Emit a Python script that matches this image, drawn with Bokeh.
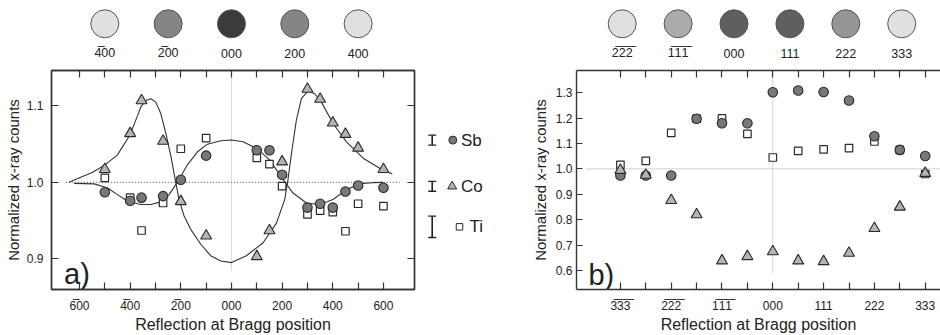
from bokeh.plotting import figure
from bokeh.models import Range1d, LinearAxis, FixedTicker, NumeralTickFormatter
from bokeh.layouts import row, column
from bokeh.embed import file_html
from bokeh.resources import INLINE
from bokeh.core.properties import value

OL = "\u0305"
FONT = "Liberation Sans"

# ---------------- panel a) data ----------------
pos_a = [-500, -400, -355, -270, -200, -100, 100, 150, 200, 300, 350, 400, 450, 500, 600]
sb_a = [0.987, 0.976, 0.980, 0.982, 1.0035, 1.035, 1.042, 1.042, 1.010, 0.967, 0.972, 0.967, 0.988, 0.996, 0.993]
co_a = [1.017, 1.064, 1.107, 1.054, 0.975, 0.930, 0.903, 0.937, 1.027, 1.122, 1.109, 1.078, 1.063, 1.045, 1.017]
ti_a = [1.006, 0.980, 0.937, 0.973, 1.044, 1.058, 1.032, 1.024, 0.995, 0.958, 0.963, 0.961, 0.936, 0.972, 0.969]

# fitted curves
co_fit_x = [-641, -600, -550, -503, -450, -401, -370, -358, -338, -318, -299, -279, -259, -239, -222, -207,
            -187, -161, -121, -82, -42, 0, 59, 125, 178, 210, 223, 237, 256, 276, 302, 329, 355, 401, 454,
            520, 585, 635]
co_fit_y = [1.0, 1.006, 1.013, 1.022, 1.036, 1.062, 1.088, 1.0987, 1.107, 1.1095, 1.105, 1.090, 1.064, 1.034,
            1.0035, 0.9775, 0.956, 0.9385, 0.919, 0.904, 0.897, 0.895, 0.904, 0.921, 0.947, 0.9775, 1.0035,
            1.038, 1.081, 1.1095, 1.1195, 1.116, 1.105, 1.077, 1.053, 1.0316, 1.0186, 1.011]
sb_fit_x = [-621, -542, -489, -450, -411, -358, -318, -279, -246, -207, -174, -134, -95, -42, 0, 46, 99, 151,
            204, 243, 296, 349, 401, 454, 506, 559, 599]
sb_fit_y = [0.9987, 0.998, 0.9926, 0.984, 0.9753, 0.971, 0.971, 0.9745, 0.984, 1.0035, 1.023, 1.040, 1.050,
            1.0545, 1.0554, 1.0532, 1.0446, 1.0294, 1.0035, 0.986, 0.973, 0.971, 0.9775, 0.9905, 0.9983,
            0.9996, 1.0]

tick_labels_a = {-600: "6" + OL + "00", -400: "4" + OL + "00", -200: "2" + OL + "00", 0: "000",
                 200: "200", 400: "400", 600: "600"}
ring_a_pos = [-500, -250, 0, 250, 500]
ring_a_lbl = ["4" + OL + "00", "2" + OL + "00", "000", "200", "400"]
ring_a_col = ["#e0e0e0", "#858585", "#3b3b3b", "#858585", "#e0e0e0"]

# ---------------- panel b) data ----------------
pos_b = [-3, -2.5, -2, -1.5, -1, -0.5, 0, 0.5, 1, 1.5, 2, 2.5, 3]
sb_b = [0.974, 0.974, 0.974, 1.198, 1.180, 1.180, 1.302, 1.309, 1.303, 1.270, 1.129, 1.075, 1.051]
ti_b = [1.016, 1.032, 1.142, 1.198, 1.199, 1.138, 1.045, 1.071, 1.077, 1.082, 1.108, 1.075, 0.980]
co_b = [0.995, 0.976, 0.876, 0.820, 0.638, 0.655, 0.674, 0.638, 0.635, 0.668, 0.766, 0.850, 0.983]

b3 = "3" + OL
b2 = "2" + OL
b1 = "1" + OL
tick_labels_b = {-3: b3 * 3, -2: b2 * 3, -1: b1 * 3, 0: "000", 1: "111", 2: "222", 3: "333"}
ring_b_lbl = [b2 * 3, b1 * 3, "000", "111", "222", "333"]
ring_b_col = ["#e0e0e0", "#ababab", "#5f5f5f", "#5f5f5f", "#969696", "#e0e0e0"]

# legend
leg_names = ["Sb", "Co", "Ti"]
leg_err = [0.0065, 0.0065, 0.014]

C_FILL = "#787878"
T_FILL = "#b4b4b4"
EDGE = "#2a2a2a"
AX = "#333333"


def make_fig(w, h, xr, yr, **kw):
    p = figure(width=w, height=h, x_range=xr, y_range=yr, x_axis_type=None, y_axis_type=None,
               output_backend="svg", toolbar_location=None, **kw)
    p.grid.visible = False
    p.outline_line_color = None
    p.background_fill_color = "white"
    p.border_fill_color = "white"
    return p


def axis(ticks, minor, tick_len=7, labels=True, size="12px", standoff=8, fmt=None, overrides=None,
         label=None, label_size="16px", label_standoff=2):
    ax = LinearAxis(ticker=FixedTicker(ticks=ticks, minor_ticks=minor))
    ax.axis_line_color = AX
    ax.axis_line_width = 1.4
    ax.major_tick_line_color = AX
    ax.minor_tick_line_color = AX
    ax.major_tick_line_width = 1.2
    ax.minor_tick_line_width = 1.2
    ax.major_tick_in = tick_len
    ax.major_tick_out = 0
    ax.minor_tick_in = tick_len
    ax.minor_tick_out = 0
    if fmt is not None:
        ax.formatter = fmt
    if overrides is not None:
        ax.major_label_overrides = overrides
    if labels:
        ax.major_label_text_font = FONT
        ax.major_label_text_font_size = size
        ax.major_label_text_color = "#222222"
        ax.major_label_standoff = standoff
    else:
        ax.major_label_text_font_size = "1px"
        ax.major_label_text_color = None
        ax.major_label_standoff = 0
    if label:
        ax.axis_label = label
        ax.axis_label_text_font = FONT
        ax.axis_label_text_font_size = label_size
        ax.axis_label_text_font_style = "normal"
        ax.axis_label_text_color = "#222222"
        ax.axis_label_standoff = label_standoff
    return ax


# ---------------- top rows of rings ----------------
xr_a = Range1d(-710.5, 722.6)
ta = make_fig(420, 62, xr_a, Range1d(62, 0), min_border_left=51, min_border_right=6,
              min_border_top=0, min_border_bottom=0)
ta.scatter(ring_a_pos, [23.3] * 5, size=28, marker="circle", fill_color=ring_a_col,
           line_color="#555555", line_width=1)
ta.text(ring_a_pos, [52.5] * 5, text=ring_a_lbl, text_font=value(FONT), text_font_size="12.5px",
        text_align="center", text_baseline="middle", text_color="#222222")

ring_b_pos = list(range(6))
tb = make_fig(520, 62, Range1d(-3.608, 5.694), Range1d(62, 0), min_border_left=0, min_border_right=0,
              min_border_top=0, min_border_bottom=0)
tb.scatter(ring_b_pos, [23.3] * 6, size=28, marker="circle", fill_color=ring_b_col,
           line_color="#555555", line_width=1)
tb.text(ring_b_pos, [52.5] * 6, text=ring_b_lbl, text_font=value(FONT), text_font_size="12.5px",
        text_align="center", text_baseline="middle", text_color="#222222")

# ---------------- panel a ----------------
yr_a = Range1d(0.8598, 1.1464)
pa = make_fig(420, 273, xr_a, yr_a, min_border_left=51, min_border_right=6,
              min_border_top=8, min_border_bottom=44)
pa.outline_line_color = AX
pa.outline_line_width = 1.4

maj_a = [-600, -400, -200, 0, 200, 400, 600]
min_a = [-500, -300, -100, 100, 300, 500]
pa.add_layout(axis(maj_a, min_a, overrides=tick_labels_a, label="Reflection at Bragg position",
                   label_standoff=0, standoff=9), "below")
pa.add_layout(axis(maj_a, min_a, labels=False), "above")
pa.add_layout(axis([0.9, 1.0, 1.1], [], fmt=NumeralTickFormatter(format="0.0"),
                   label="Normalized x-ray counts", label_size="15px", label_standoff=2, standoff=8), "left")
pa.add_layout(axis([0.9, 1.0, 1.1], [], labels=False), "right")

pa.segment(x0=[0], y0=[0.884], x1=[0], y1=[1.1464], line_color="#dddddd", line_width=1.2)
pa.segment(x0=[-654], y0=[1.0], x1=[664], y1=[1.0], line_color="#666666", line_width=1.1, line_dash="1 2")
pa.line(co_fit_x, co_fit_y, line_color="#333333", line_width=1.1)
pa.line(sb_fit_x, sb_fit_y, line_color="#333333", line_width=1.1)
pa.scatter(pos_a, ti_a, marker="square", size=7.5, fill_color="white", line_color=EDGE, line_width=1.2)
pa.scatter(pos_a, sb_a, marker="circle", size=9.5, fill_color=C_FILL, line_color=EDGE, line_width=1.1)
pa.scatter(pos_a, co_a, marker="triangle", size=11, fill_color=T_FILL, line_color=EDGE, line_width=1.1)
pa.text([-661], [0.880], text=["a)"], text_font=value(FONT), text_font_size="29px",
        text_baseline="alphabetic", text_align="left", text_color="#222222")

# ---------------- legend strip ----------------
leg = make_fig(85, 273, Range1d(420, 505), yr_a, min_border_left=0, min_border_right=0,
               min_border_top=8, min_border_bottom=44)
leg_y = [1.0553, 0.9948, 0.9418]
bar_x = 431.7
leg.segment(x0=[bar_x] * 3, y0=[y - e for y, e in zip(leg_y, leg_err)],
            x1=[bar_x] * 3, y1=[y + e for y, e in zip(leg_y, leg_err)], line_color="#222222", line_width=1.6)
for sgn in (-1, 1):
    leg.segment(x0=[bar_x - 4] * 3, y0=[y + sgn * e for y, e in zip(leg_y, leg_err)],
                x1=[bar_x + 4] * 3, y1=[y + sgn * e for y, e in zip(leg_y, leg_err)],
                line_color="#222222", line_width=1.4)
leg.scatter([452.3], [leg_y[0]], marker="circle", size=8, fill_color=C_FILL, line_color=EDGE, line_width=1)
leg.scatter([451.7], [leg_y[1]], marker="triangle", size=9, fill_color=T_FILL, line_color=EDGE, line_width=1)
leg.scatter([459], [leg_y[2]], marker="square", size=6.5, fill_color="white", line_color=EDGE, line_width=1)
leg.text([460.5, 460.5, 469], leg_y, text=leg_names, text_font=value(FONT), text_font_size="17px",
         text_baseline="middle", text_align="left", text_color="#222222")

# ---------------- panel b ----------------
pb = make_fig(435, 273, Range1d(-3.864, 3.301), Range1d(0.5246, 1.388), min_border_left=71,
              min_border_right=0, min_border_top=7, min_border_bottom=45)
maj_b = [-3, -2, -1, 0, 1, 2, 3]
min_b = [-2.5, -1.5, -0.5, 0.5, 1.5, 2.5]
pb.add_layout(axis(maj_b, min_b, overrides=tick_labels_b, label="Reflection at Bragg position",
                   label_standoff=0, standoff=9), "below")
pb.add_layout(axis(maj_b, min_b, labels=False), "above")
pb.add_layout(axis([0.6, 0.7, 0.8, 0.9, 1.0, 1.1, 1.2, 1.3], [], tick_len=6,
                   fmt=NumeralTickFormatter(format="0.0"), label="Normalized x-ray counts",
                   label_size="15px", label_standoff=4, standoff=4), "left")

pb.segment(x0=[-3.68], y0=[1.0], x1=[3.301], y1=[1.0], line_color="#d9d9d9", line_width=1.1)
pb.segment(x0=[0], y0=[0.59], x1=[0], y1=[1.388], line_color="#d9d9d9", line_width=1.1)
pb.scatter(pos_b, ti_b, marker="square", size=7.5, fill_color="white", line_color=EDGE, line_width=1.2)
pb.scatter(pos_b, sb_b, marker="circle", size=9.5, fill_color=C_FILL, line_color=EDGE, line_width=1.1)
pb.scatter(pos_b, co_b, marker="triangle", size=11, fill_color=T_FILL, line_color=EDGE, line_width=1.1)
pb.text([-3.63], [0.583], text=["b)"], text_font=value(FONT), text_font_size="29px",
        text_baseline="alphabetic", text_align="left", text_color="#222222")

layout = column(row(ta, tb), row(pa, leg, pb))
open("out.html", "w").write(file_html(layout, INLINE))
